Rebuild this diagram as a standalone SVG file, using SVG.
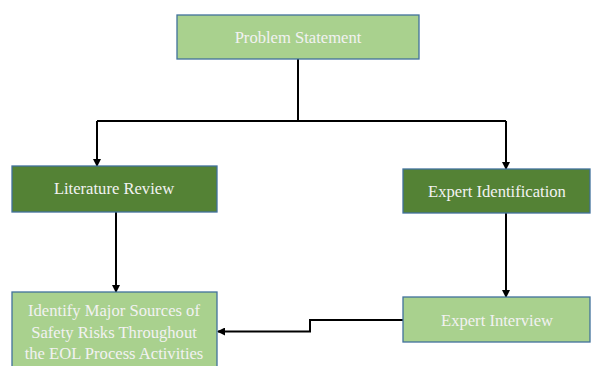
<svg xmlns="http://www.w3.org/2000/svg" width="596" height="366" viewBox="0 0 596 366">
<defs>
<marker id="arr" markerWidth="8" markerHeight="8" refX="7" refY="4" orient="auto" markerUnits="userSpaceOnUse">
<path d="M0,0 L8,4 L0,8 z" fill="#000"/>
</marker>
<style>
.light{fill:#A9D18E;stroke:#41719C;stroke-width:1.3}
.dark{fill:#548235;stroke:#41719C;stroke-width:1.3}
.t{font-family:"Liberation Serif","Times New Roman",serif;font-size:16.6px;fill:#F2F2F2;text-anchor:middle}
.c{fill:none;stroke:#000;stroke-width:2}
</style>
</defs>
<rect width="596" height="366" fill="#fff"/>
<g id="connectors">
<path class="c" d="M298,59 V121"/>
<path class="c" d="M97,121 H506"/>
<path class="c" d="M97,121 V166" marker-end="url(#arr)"/>
<path class="c" d="M506,121 V169" marker-end="url(#arr)"/>
<path class="c" d="M116,212 V292" marker-end="url(#arr)"/>
<path class="c" d="M506,213 V297" marker-end="url(#arr)"/>
<path class="c" d="M403,320 H310 V331.5 H218" marker-end="url(#arr)"/>
</g>
<g id="problem-statement">
<rect class="light" x="177" y="15" width="242" height="44"/>
<text class="t" x="298" y="43">Problem Statement</text>
</g>
<g id="literature-review">
<rect class="dark" x="12" y="166" width="205" height="46"/>
<text class="t" x="114" y="194">Literature Review</text>
</g>
<g id="expert-identification">
<rect class="dark" x="403" y="169" width="187" height="44"/>
<text class="t" x="497" y="197">Expert Identification</text>
</g>
<g id="identify-sources">
<rect class="light" x="12" y="292" width="205" height="80"/>
<text class="t" x="114" y="316">Identify Major Sources of</text>
<text class="t" x="114" y="338">Safety Risks Throughout</text>
<text class="t" x="114" y="359">the EOL Process Activities</text>
</g>
<g id="expert-interview">
<rect class="light" x="403" y="297" width="187" height="45"/>
<text class="t" x="497" y="326">Expert Interview</text>
</g>
</svg>
